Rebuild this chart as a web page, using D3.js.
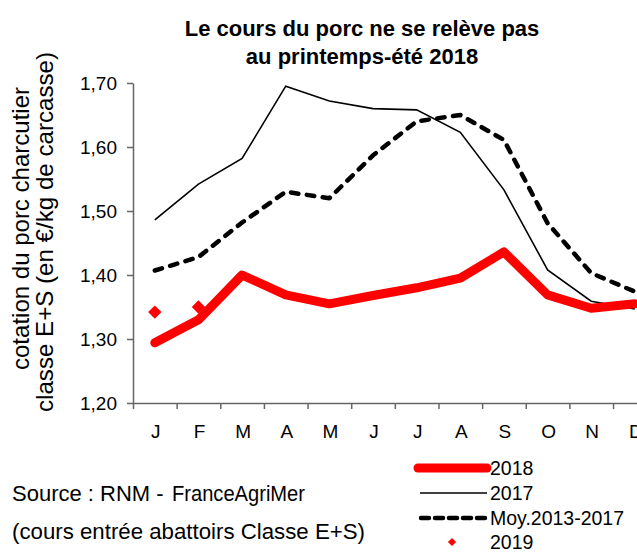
<!DOCTYPE html>
<html><head><meta charset="utf-8">
<script src="https://cdn.jsdelivr.net/npm/d3@7"></script>
<style>
html,body{margin:0;padding:0;background:#fff;}
svg{display:block;font-family:"Liberation Sans",Arial,sans-serif;}
</style></head>
<body>
<script>
const months = ["J","F","M","A","M","J","J","A","S","O","N","D"];
const s2018 = [1.294,1.330,1.400,1.369,1.355,1.368,1.380,1.395,1.436,1.369,1.348,1.355];
const s2017 = [1.486,1.542,1.582,1.695,1.672,1.660,1.658,1.623,1.533,1.408,1.359,1.347];
const sMoy  = [1.407,1.428,1.482,1.530,1.520,1.587,1.640,1.650,1.611,1.481,1.403,1.374];
const s2019 = [1.342,1.350];
const yTicks = [1.20,1.30,1.40,1.50,1.60,1.70];
const legendItems = ["2018","2017","Moy.2013-2017","2019"];

const W=637,H=552;
const svg=d3.select("body").append("svg").attr("width",W).attr("height",H);

const x=d3.scaleBand().domain(d3.range(12)).range([133,133+12*43.64]).paddingInner(0).paddingOuter(0);
const y=d3.scaleLinear().domain([1.20,1.70]).range([403,83]);
const cx=i=>x(i)+x.bandwidth()/2;
const fmt=v=>d3.format(".2f")(v).replace(".",",");

// title
svg.append("text").attr("x",362).attr("y",36).attr("text-anchor","middle")
  .attr("font-size",22).attr("font-weight","bold").text("Le cours du porc ne se relève pas");
svg.append("text").attr("x",362).attr("y",64).attr("text-anchor","middle")
  .attr("font-size",22).attr("font-weight","bold").text("au printemps-été 2018");

// y axis title
svg.append("text").attr("transform","translate(29,228.5) rotate(-90)").attr("text-anchor","middle")
  .attr("font-size",24).attr("textLength",283).attr("lengthAdjust","spacingAndGlyphs")
  .text("cotation du porc charcutier");
svg.append("text").attr("transform","translate(53,232) rotate(-90)").attr("text-anchor","middle")
  .attr("font-size",24).attr("textLength",360).attr("lengthAdjust","spacingAndGlyphs")
  .text("classe E+S  (en €/kg de carcasse)");

// y axis
const yAx=svg.append("g").attr("transform","translate(133,0)")
  .call(d3.axisLeft(y).tickValues(yTicks).tickFormat(fmt).tickSize(6).tickSizeOuter(0).tickPadding(10));
yAx.selectAll("text").attr("font-size",19).attr("fill","#000").attr("font-family","Liberation Sans, Arial, sans-serif");
yAx.selectAll("line").attr("stroke","#666").attr("stroke-width",1.5);
yAx.select(".domain").attr("stroke","#666").attr("stroke-width",1.5);

// x axis
const xb=d3.scaleLinear().domain([0,12]).range([133,133+12*43.64]);
const xAx=svg.append("g").attr("transform","translate(0,403)")
  .call(d3.axisBottom(xb).tickValues(d3.range(12)).tickFormat("").tickSize(6).tickSizeOuter(0));
xAx.selectAll("line").attr("stroke","#666").attr("stroke-width",1.5);
xAx.select(".domain").attr("stroke","#666").attr("stroke-width",1.5);
svg.append("g").selectAll("text").data(months).join("text")
  .attr("x",(d,i)=>cx(i)+1).attr("y",438).attr("text-anchor","middle").attr("font-size",19).text(d=>d);

// lines
const line=d3.line().x((d,i)=>cx(i)).y(d=>y(d));
svg.append("path").attr("d",line(sMoy)).attr("fill","none").attr("stroke","#000")
  .attr("stroke-width",4.5).attr("stroke-dasharray","7.5,8.5").attr("stroke-linecap","round").attr("stroke-linejoin","round");
svg.append("path").attr("d",line(s2017)).attr("fill","none").attr("stroke","#000").attr("stroke-width",1.6);
svg.append("path").attr("d",line(s2018)).attr("fill","none").attr("stroke","#ff0000")
  .attr("stroke-width",9).attr("stroke-linecap","round").attr("stroke-linejoin","round");
svg.append("g").selectAll("path").data(s2019).join("path")
  .attr("d",d3.symbol(d3.symbolSquare,90)())
  .attr("transform",(d,i)=>`translate(${cx(i)},${y(d)}) rotate(45)`).attr("fill","#ff0000");

// legend
const lg=svg.append("g");
const ly=[468,493,518,542];
lg.append("line").attr("x1",418).attr("x2",487).attr("y1",ly[0]).attr("y2",ly[0])
  .attr("stroke","#ff0000").attr("stroke-width",9).attr("stroke-linecap","round");
lg.append("line").attr("x1",420).attr("x2",487).attr("y1",ly[1]).attr("y2",ly[1])
  .attr("stroke","#000").attr("stroke-width",1.6);
lg.append("line").attr("x1",421).attr("x2",487).attr("y1",ly[2]).attr("y2",ly[2])
  .attr("stroke","#000").attr("stroke-width",4.5).attr("stroke-dasharray","8,6").attr("stroke-linecap","round");
lg.append("path").attr("d",d3.symbol(d3.symbolSquare,34)())
  .attr("transform",`translate(452,${ly[3]}) rotate(45)`).attr("fill","#ff0000");
lg.selectAll("text").data(legendItems).join("text")
  .attr("x",490).attr("y",(d,i)=>ly[i]+7).attr("font-size",19.5).text(d=>d);

// source
svg.append("text").attr("x",12).attr("y",501).attr("font-size",22).text("Source : RNM - ");
svg.append("text").attr("x",172).attr("y",501).attr("font-size",22)
  .attr("textLength",133).attr("lengthAdjust","spacingAndGlyphs").text("FranceAgriMer");
svg.append("text").attr("x",12).attr("y",539).attr("font-size",22)
  .attr("textLength",353).attr("lengthAdjust","spacingAndGlyphs").text("(cours entrée abattoirs Classe E+S)");
</script>
</body></html>
